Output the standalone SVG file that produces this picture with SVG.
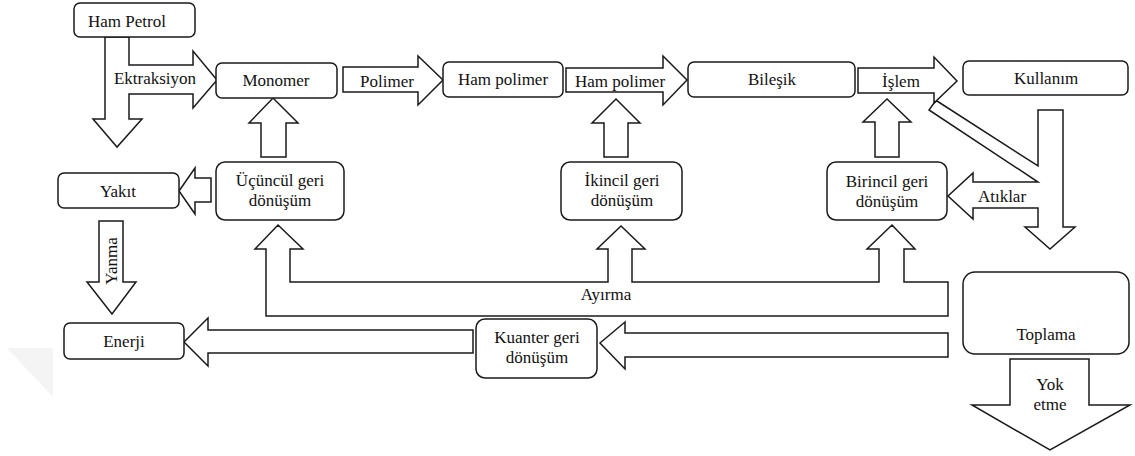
<svg xmlns="http://www.w3.org/2000/svg" width="1135" height="456" viewBox="0 0 1135 456" font-family="Liberation Serif, Tinos, Times New Roman, DejaVu Serif, serif">
<style>
.box{fill:#fff;stroke:#1a1a1a;stroke-width:1.5}
.arr{fill:#fff;stroke:#1a1a1a;stroke-width:1.5;stroke-linejoin:miter}
.t{font-size:17px;fill:#111;text-anchor:middle}
</style>
<rect width="1135" height="456" fill="#fff"/>
<polygon points="7,348 53,348 53,397" fill="#f4f4f4"/>
<g id="connectors">
<polygon class="arr" points="105,37 129,37 129,65 193,65 193,51 217,80 193,108 193,94 129,94 129,119 142,119 117,147 93,119 105,119"/>
<polygon class="arr" points="343,67 418,67 418,56 443,80 418,105 418,92 343,92"/>
<polygon class="arr" points="566,68 663,68 663,56 687,80 663,105 663,92 566,92"/>
<polygon class="arr" points="1038,110 1063,110 1063,227 1075,227 1050,249 1025,227 1038,227 1038,208 973,208 973,219 948,196 973,173 973,182 1038,182 929,110 934,103 937,101 1038,166"/>
<polygon class="arr" points="858,68 934,68 934,57 957,81 934,103 934,93 858,93"/>
<polygon class="arr" points="261,157 261,123 249,123 273,98 298,123 286,123 286,157"/>
<polygon class="arr" points="604,157 604,123 592,123 616,99 640,123 628,123 628,157"/>
<polygon class="arr" points="875,157 875,122 863,122 887,99 911,122 899,122 899,157"/>
<polygon class="arr" points="211,178 195,178 195,168 179,191 195,214 195,202 211,202"/>
<polygon class="arr" points="99,221 123,221 123,282 136,282 112,314 87,282 99,282"/>
<polygon class="arr" points="266,316 266,249 255,249 278,225 303,249 290,249 290,282 608,282 608,249 597,249 621,226 645,249 632,249 632,282 879,282 879,249 867,249 892,225 915,249 904,249 904,282 948,282 948,316"/>
<polygon class="arr" points="473,330 208,330 208,318 184,342 208,366 208,353 473,353"/>
<polygon class="arr" points="948,333 625,333 625,322 600,343 625,369 625,357 948,357"/>
<polygon class="arr" points="1010,359 1089,359 1089,405 1130,405 1050,450 972,405 1010,405"/>
<text class="t" x="155" y="84">Ektraksiyon</text>
<text class="t" x="387" y="87">Polimer</text>
<text class="t" x="620" y="87">Ham polimer</text>
<text class="t" x="901" y="87">İşlem</text>
<text class="t" x="1002" y="202">Atıklar</text>
<text class="t" transform="translate(117,261) rotate(-90)">Yanma</text>
<text class="t" x="606" y="300">Ayırma</text>
<text class="t" x="1050" y="390">Yok</text>
<text class="t" x="1050" y="410">etme</text>
</g>
<g id="ham-petrol"><rect class="box" x="74" y="3" width="121" height="34" rx="6"/><text class="t" x="127" y="27">Ham Petrol</text></g>
<g id="monomer"><rect class="box" x="216" y="63" width="121" height="35" rx="6"/><text class="t" x="276" y="86">Monomer</text></g>
<g id="ham-polimer"><rect class="box" x="443" y="62" width="120" height="35" rx="6"/><text class="t" x="503" y="85">Ham polimer</text></g>
<g id="bilesik"><rect class="box" x="688" y="62" width="167" height="35" rx="6"/><text class="t" x="772" y="85">Bileşik</text></g>
<g id="kullanim"><rect class="box" x="963" y="61" width="165" height="34" rx="6"/><text class="t" x="1046" y="84">Kullanım</text></g>
<g id="yakit"><rect class="box" x="58" y="173" width="121" height="35" rx="6"/><text class="t" x="118" y="197">Yakıt</text></g>
<g id="ucuncul"><rect class="box" x="216" y="162" width="128" height="58" rx="9"/><text class="t" x="280" y="186">Üçüncül geri</text><text class="t" x="280" y="206">dönüşüm</text></g>
<g id="ikincil"><rect class="box" x="561" y="162" width="121" height="58" rx="9"/><text class="t" x="622" y="186">İkincil geri</text><text class="t" x="622" y="206">dönüşüm</text></g>
<g id="birincil"><rect class="box" x="827" y="162" width="120" height="58" rx="9"/><text class="t" x="887" y="187">Birincil geri</text><text class="t" x="887" y="207">dönüşüm</text></g>
<g id="enerji"><rect class="box" x="64" y="323" width="120" height="36" rx="6"/><text class="t" x="124" y="347">Enerji</text></g>
<g id="kuanter"><rect class="box" x="476" y="319" width="121" height="59" rx="9"/><text class="t" x="537" y="343">Kuanter geri</text><text class="t" x="537" y="363">dönüşüm</text></g>
<g id="toplama"><rect class="box" x="963" y="272" width="166" height="82" rx="12"/><text class="t" x="1046" y="340">Toplama</text></g>
</svg>
